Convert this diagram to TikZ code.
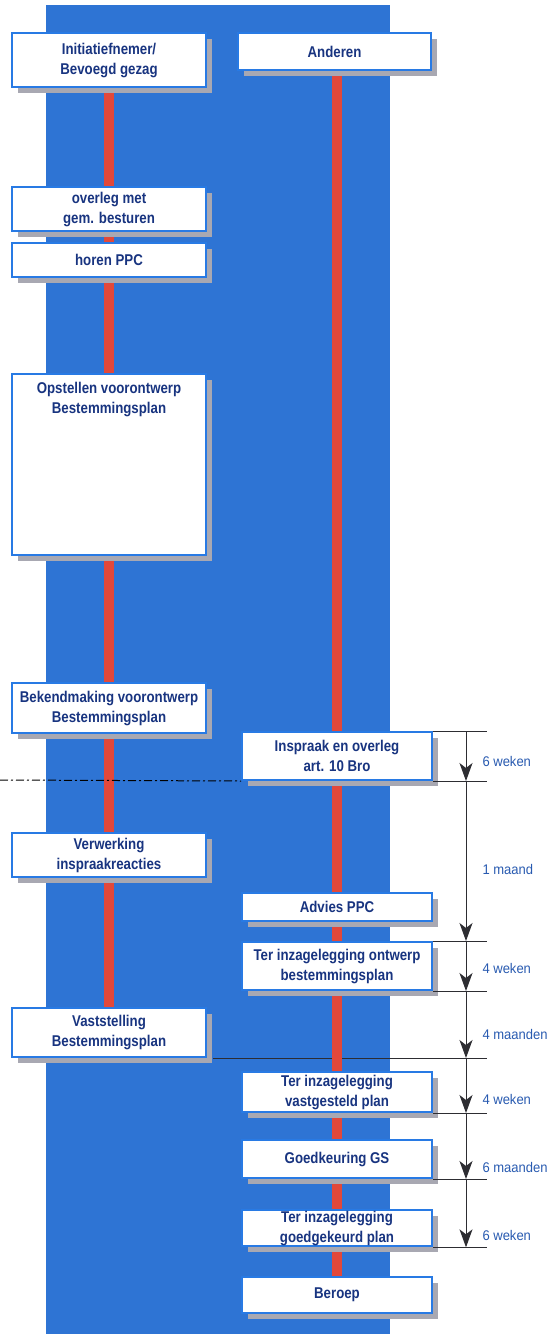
\documentclass[tikz,border=0pt]{standalone}
\usepackage{fontspec}
\setmainfont{Liberation Sans}
\newfontfamily\smalletter{Liberation Sans}[FakeStretch = 0.85]
\newfontfamily\duurletter{Liberation Sans}[FakeStretch = 0.93]
\usetikzlibrary{arrows.meta,positioning,shadows}

\definecolor{paneel}{RGB}{46,116,212}
\definecolor{randblauw}{RGB}{40,122,228}
\definecolor{tekst}{RGB}{24,52,128}
\definecolor{balk}{RGB}{226,72,58}
\definecolor{schaduw}{RGB}{168,168,178}
\definecolor{maat}{RGB}{45,45,50}
\definecolor{duur}{RGB}{40,90,176}

\pgfdeclarelayer{achter}
\pgfdeclarelayer{lijnen}
\pgfsetlayers{achter,lijnen,main}

\begin{document}
\begin{tikzpicture}[x = 1pt, y = -1pt,
  stap/.style = {draw = randblauw, line width = 2pt, fill = white, text = tekst, align = center, inner sep = 1pt,
    font = \smalletter\fontsize{15.6}{20}\selectfont\bfseries,
    drop shadow = {shadow xshift = 6pt, shadow yshift = -6pt, fill = schaduw, opacity = 1}},
  links/.style = {stap, minimum width = 194pt},
  rechts/.style = {stap, minimum width = 190pt},
  balklijn/.style = {balk, line width = 10pt},
  streep/.style = {maat, line width = .6pt},
  pijl/.style = {maat, line width = 1pt, -{Stealth[length = 18pt, width = 13pt, inset = 5pt]}},
  duurtekst/.style = {anchor = west, xshift = 16pt, inner sep = 0pt, text = duur, font = \duurletter\fontsize{14}{16}\selectfont}]
\useasboundingbox (0,0) rectangle (554,1334);

% linker kolom
\node[links, minimum height = 54pt] (init) at (109,60) {Initiatiefnemer/\\Bevoegd gezag};
\node[links, minimum height = 44pt] (overleg) at (109,209) {overleg met\\gem. besturen};
\node[links, minimum height = 34pt] (horen) at (109,260) {horen PPC};
\node[links, minimum height = 181pt] (opstellen) at (109,464.5) {\parbox[t][165pt][t]{185pt}{\centering Opstellen voorontwerp\\Bestemmingsplan}};
\node[links, minimum height = 50pt] (bekend) at (109,708) {Bekendmaking voorontwerp\\Bestemmingsplan};
\node[links, minimum height = 44pt] (verwerking) at (109,855) {Verwerking\\inspraakreacties};
\node[links, minimum height = 49pt] (vaststelling) at (109,1032.5) {Vaststelling\\Bestemmingsplan};

% rechter kolom
\node[stap, minimum width = 193pt, minimum height = 37pt] (anderen) at (334.5,51.5) {Anderen};
\node[rechts, minimum height = 48pt] (inspraak) at (337,756) {Inspraak en overleg\\art. 10 Bro};
\node[rechts, minimum height = 28pt] (advies) at (337,907) {Advies PPC};
\node[rechts, minimum height = 48pt] (ontwerp) at (337,966) {Ter inzagelegging ontwerp\\bestemmingsplan};
\node[rechts, minimum height = 40pt] (vastgesteld) at (337,1092) {Ter inzagelegging\\vastgesteld plan};
\node[rechts, minimum height = 38pt] (gs) at (337,1159) {Goedkeuring GS};
\node[rechts, minimum height = 36pt] (goedgekeurd) at (337,1228) {Ter inzagelegging\\goedgekeurd plan};
\node[rechts, minimum height = 36pt] (beroep) at (337,1295) {Beroep};

\coordinate (as) at (466,0);
\coordinate (eind) at (487,0);
\coordinate (lijnbegin) at (0,780);

\begin{pgfonlayer}{achter}
\fill[paneel] (46,5) rectangle (390,1334);
\end{pgfonlayer}
\begin{pgfonlayer}{lijnen}
\draw[streep] ([xshift = 6pt]vaststelling.south east) -- (vaststelling.south east -| eind);
\draw[balklijn] (init.south) -- (vaststelling.north);
\draw[balklijn] (beroep.north |- anderen.south) -- (beroep.north);
\end{pgfonlayer}

\draw[black, line width = 1pt, dash pattern = on 8pt off 3pt on 2pt off 3pt] (lijnbegin) -- (inspraak.south west);

% maatlijnen
\draw[streep] (inspraak.north east) -- (inspraak.north east -| eind);
\draw[streep] (inspraak.south east) -- (inspraak.south east -| eind);
\draw[streep] (ontwerp.north east) -- (ontwerp.north east -| eind);
\draw[streep] (ontwerp.south east) -- (ontwerp.south east -| eind);
\draw[streep] (vastgesteld.south east) -- (vastgesteld.south east -| eind);
\draw[streep] (gs.south east) -- (gs.south east -| eind);
\draw[streep] (goedgekeurd.south east) -- (goedgekeurd.south east -| eind);

\draw[pijl] (inspraak.north -| as) -- (inspraak.south -| as) node[duurtekst, pos = .6] {6 weken};
\draw[pijl] (inspraak.south -| as) -- (ontwerp.north -| as) node[duurtekst, pos = .55] {1 maand};
\draw[pijl] (ontwerp.north -| as) -- (ontwerp.south -| as) node[duurtekst, pos = .55] {4 weken};
\draw[pijl] (ontwerp.south -| as) -- (vaststelling.south -| as) node[duurtekst, pos = .65] {4 maanden};
\draw[pijl] (vaststelling.south -| as) -- (vastgesteld.south -| as) node[duurtekst, pos = .75] {4 weken};
\draw[pijl] (vastgesteld.south -| as) -- (gs.south -| as) node[duurtekst, pos = .83] {6 maanden};
\draw[pijl] (gs.south -| as) -- (goedgekeurd.south -| as) node[duurtekst, pos = .83] {6 weken};
\end{tikzpicture}
\end{document}
